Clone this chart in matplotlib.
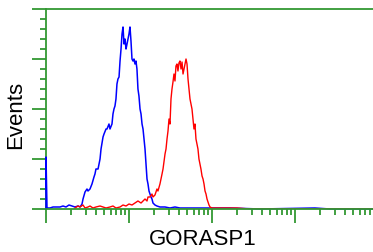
import matplotlib.pyplot as plt
from matplotlib.ticker import MultipleLocator, LogLocator, NullFormatter

# log10 fluorescence / event counts
blue_log = [0.0, 0.0, 0.012, 0.048, 0.084, 0.12, 0.169, 0.205, 0.241, 0.277, 0.313,
            0.349, 0.386, 0.41, 0.434, 0.446, 0.47, 0.494, 0.506, 0.53, 0.554,
            0.578, 0.59, 0.602, 0.627, 0.639, 0.651, 0.663, 0.687, 0.699, 0.723,
            0.735, 0.759, 0.771, 0.795, 0.807, 0.819, 0.831, 0.843, 0.855, 0.867,
            0.88, 0.892, 0.904, 0.916, 0.928, 0.94, 0.952, 0.964, 0.976, 0.988,
            1.0, 1.012, 1.024, 1.036, 1.048, 1.06, 1.072, 1.084, 1.096, 1.108,
            1.12, 1.133, 1.145, 1.157, 1.169, 1.181, 1.193, 1.205, 1.217, 1.229,
            1.241, 1.253, 1.265, 1.277, 1.289, 1.313, 1.337, 1.373, 1.434, 1.494,
            1.554, 1.614, 1.735, 1.855, 1.976, 2.217, 2.578, 3.24, 3.42, 3.94]
blue_cnt = [0, 52, 1, 1, 2, 2, 2, 3, 2, 4, 3,
            2, 3, 2, 5, 10, 17, 20, 18, 20, 25,
            32, 35, 40, 40, 45, 50, 60, 72, 75, 80,
            80, 85, 80, 85, 95, 100, 103, 110, 125, 130,
            132, 148, 160, 175, 182, 165, 170, 160, 165, 170,
            175, 182, 168, 150, 148, 150, 145, 148, 140, 120,
            113, 100, 95, 85, 80, 70, 60, 45, 30, 25,
            18, 15, 12, 10, 6, 4, 3, 2, 2, 1,
            2, 1, 1, 1, 1, 1, 0, 1, 0, 0]

red_log = [0.349, 0.386, 0.41, 0.446, 0.47, 0.506, 0.53, 0.566, 0.602, 0.651,
           0.687, 0.723, 0.771, 0.807, 0.843, 0.892, 0.928, 0.964, 1.0, 1.036,
           1.072, 1.108, 1.145, 1.169, 1.193, 1.217, 1.229, 1.253, 1.277, 1.289,
           1.313, 1.337, 1.349, 1.373, 1.398, 1.41, 1.434, 1.446, 1.458, 1.47,
           1.482, 1.494, 1.506, 1.518, 1.53, 1.542, 1.554, 1.566, 1.578, 1.59,
           1.602, 1.614, 1.627, 1.639, 1.651, 1.663, 1.675, 1.687, 1.699, 1.711,
           1.723, 1.735, 1.747, 1.759, 1.771, 1.783, 1.795, 1.807, 1.819, 1.831,
           1.843, 1.855, 1.867, 1.88, 1.892, 1.904, 1.916, 1.928, 1.94, 1.952,
           1.964, 1.976, 2.0, 2.036, 2.301, 2.458, 3.94]
red_cnt = [1, 3, 2, 4, 1, 2, 3, 1, 2, 3,
           2, 1, 2, 3, 1, 2, 4, 3, 5, 4,
           6, 8, 6, 8, 10, 8, 12, 12, 15, 12,
           14, 20, 18, 25, 35, 40, 55, 60, 70, 78,
           90, 85, 110, 120, 127, 135, 128, 143, 145, 138,
           146, 148, 140, 147, 135, 140, 145, 150, 145, 130,
           120, 110, 105, 100, 90, 80, 85, 70, 65, 60,
           50, 45, 40, 33, 30, 25, 18, 15, 10, 7,
           4, 2, 1, 1, 1, 0, 0]

green = '#339933'

fig = plt.figure(figsize=(3.73, 2.53), dpi=100)
ax = fig.add_axes([46 / 373, 43 / 253, 1 - 46 / 373, 200 / 253])

ax.plot([10 ** v for v in blue_log], blue_cnt, color='#0000ff', lw=1.1,
        zorder=3, clip_on=False)
ax.plot([10 ** v for v in red_log], red_cnt, color='#ff0000', lw=1.0, zorder=3)

ax.set_xscale('log')
ax.set_xlim(1, 10 ** 3.94)
ax.set_ylim(0, 200)

ax.xaxis.set_major_locator(LogLocator(base=10, numticks=10))
ax.xaxis.set_minor_locator(LogLocator(base=10, subs=range(2, 10), numticks=20))
ax.xaxis.set_major_formatter(NullFormatter())
ax.xaxis.set_minor_formatter(NullFormatter())
ax.yaxis.set_major_locator(MultipleLocator(50))
ax.yaxis.set_minor_locator(MultipleLocator(10))
ax.yaxis.set_major_formatter(NullFormatter())

for s in ['left', 'top', 'bottom']:
    ax.spines[s].set_color(green)
    ax.spines[s].set_linewidth(1.3)
ax.spines['right'].set_visible(False)
# baseline sits over the zero-count stretches, spike stays over the left spine
ax.spines['bottom'].set_zorder(4)
ax.tick_params(which='major', length=10, width=1.3, color=green)
ax.tick_params(which='minor', length=4, width=1.3, color=green)

fig.text(203 / 373, 1 - 240 / 253, 'GORASP1', ha='center', va='center',
         fontsize=16, family='Liberation Sans')
fig.text(16 / 373, 1 - 115 / 253, 'Events', ha='center', va='center',
         rotation=90, fontsize=16, family='Liberation Sans')

fig.savefig('out.png', dpi=100)
